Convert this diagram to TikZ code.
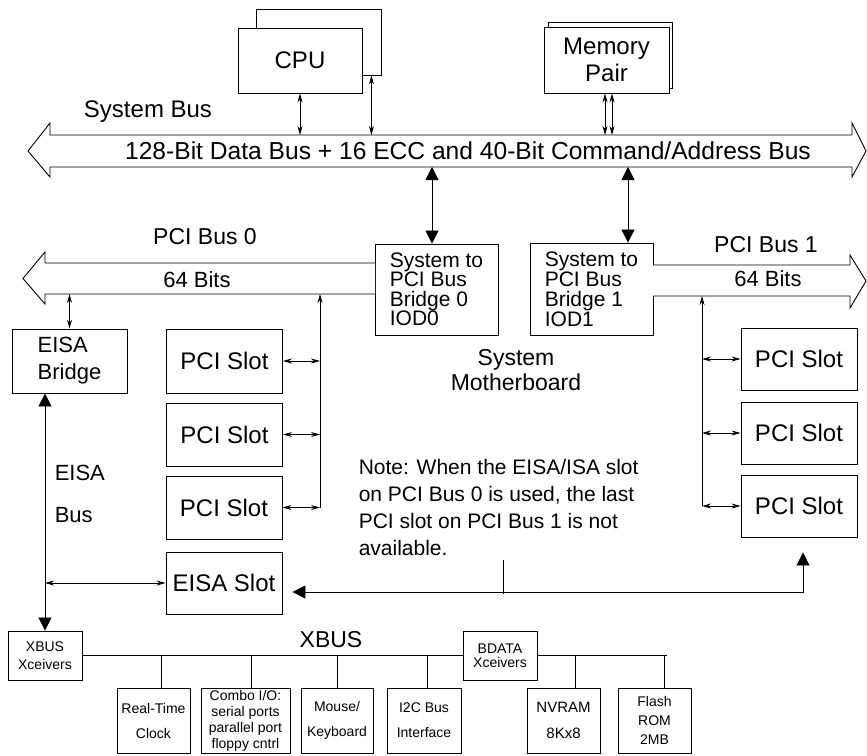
\documentclass[tikz,border=0pt]{standalone}
\usepackage{fontspec}
\setmainfont{Liberation Sans}
\usetikzlibrary{arrows.meta, calc}

\begin{document}
\begin{tikzpicture}[
    x=1pt, y=-1pt,
    line width=0.9pt,
    blk/.style={draw, fill=white, inner sep=0pt, align=center},
    big/.style={font=\fontsize{24}{27}\selectfont},
    mid/.style={font=\fontsize{21}{27}\selectfont},
    tiny/.style={font=\fontsize{14}{25}\selectfont},
    bus/.style={draw, fill=white, line join=miter},
    arr/.style={{Stealth[length=9pt,width=5pt]}-{Stealth[length=9pt,width=5pt]}, line width=0.8pt},
    uparr/.style={-{Stealth[length=9pt,width=5pt]}, line width=0.8pt},
    fat/.style={{Triangle[length=13pt,width=13pt]}-{Triangle[length=13pt,width=13pt]}, line width=0.8pt},
]
    \useasboundingbox (0,0) rectangle (867,755);

    % System bus
    \draw[bus] (50,135) -- (852,135) -- (852,123) -- (866,151) -- (852,177) -- (852,167)
        -- (50,167) -- (50,177) -- (28,151) -- (50,123) -- cycle;
    \coordinate (sbtop) at (0,135);
    \coordinate (sbbot) at (0,167);
    \node[font=\fontsize{24.6}{27}\selectfont] (sbtxt) at (468,151) {128-Bit Data Bus + 16 ECC and 40-Bit Command/Address Bus};
    \node[big] (sblbl) at (148,112) {System Bus};

    % CPU and memory
    \node[blk, minimum width=125, minimum height=66] (cpub) at (318.5,42) {};
    \node[blk, big, minimum width=124, minimum height=65] (cpu) at (300,60.5) {CPU};
    \node[blk, minimum width=124, minimum height=66] (memb) at (610,55) {};
    \node[blk, big, minimum width=125, minimum height=66] (mem) at (606.5,60) {Memory\\Pair};

    \coordinate (cpuc) at ($(cpub.south east)+(-10,0)$);
    \coordinate (mema) at ($(mem.south)+(-1.5,0)$);
    \coordinate (memc) at ($(mem.south)+(5.5,0)$);
    \draw[arr] (cpu.south) -- (cpu.south |- sbtop);
    \draw[arr] (cpuc) -- (cpuc |- sbtop);
    \draw[arr] (mema) -- (mema |- sbtop);
    \draw[arr] (memc) -- (memc |- sbtop);

    % Bridges
    \node[blk, align=left, minimum width=123, minimum height=91, font=\fontsize{21}{19.5}\selectfont] (br0) at (436.5,289.5) {System to\\PCI Bus\\Bridge 0\\IOD0};
    \node[blk, align=left, minimum width=123, minimum height=92, font=\fontsize{21}{20}\selectfont] (br1) at (591.5,289) {System to\\PCI Bus\\Bridge 1\\IOD1};
    \coordinate (b0top) at ($(br0.north)+(-4.5,0)$);
    \coordinate (b1top) at ($(br1.north)+(36.5,0)$);
    \draw[fat] (b0top) -- (b0top |- sbbot);
    \draw[fat] (b1top) -- (b1top |- sbbot);

    % PCI buses
    \draw[bus] (375,263) -- (45,263) -- (45,252) -- (23,278.5) -- (45,304) -- (45,294) -- (375,294);
    \draw[bus] (653,265) -- (850,265) -- (850,255) -- (866,281) -- (850,308) -- (850,296) -- (653,296);
    \coordinate (p0bot) at (0,294);
    \coordinate (p1bot) at (0,296);
    \node[font=\fontsize{23}{27}\selectfont] (p0lbl) at (205,237) {PCI Bus 0};
    \node[font=\fontsize{22}{27}\selectfont] (p0bits) at (197,280) {64 Bits};
    \node[font=\fontsize{23}{27}\selectfont] (p1lbl) at (766,245) {PCI Bus 1};
    \node[font=\fontsize{22}{27}\selectfont] (p1bits) at (768,279) {64 Bits};

    % EISA bridge and PCI slots on bus 0
    \node[blk, align=left, minimum width=115, minimum height=64, font=\fontsize{22}{27}\selectfont] (ebr) at (69.5,361) {EISA\\Bridge};
    \draw[arr] (ebr.north) -- (ebr.north |- p0bot);

    \node[blk, big, minimum width=116, minimum height=64] (ps1) at (224.5,361) {PCI Slot};
    \node[blk, big, minimum width=116, minimum height=63] (ps2) at (224.5,434.5) {PCI Slot};
    \node[blk, big, minimum width=116, minimum height=63] (ps3) at (224,507.5) {PCI Slot};
    \coordinate (t0) at (320,294);
    \draw[uparr] (ps3.east -| t0) -- (t0);
    \foreach \s in {ps1,ps2,ps3}
        \draw[arr] (\s.east) -- (\s.east -| t0);

    % PCI slots on bus 1
    \node[blk, big, minimum width=116, minimum height=62] (rs1) at (799,359) {PCI Slot};
    \node[blk, big, minimum width=116, minimum height=62] (rs2) at (799,433) {PCI Slot};
    \node[blk, big, minimum width=116, minimum height=62] (rs3) at (799,506) {PCI Slot};
    \coordinate (t1) at (702,296);
    \draw[uparr] (rs3.west -| t1) -- (t1);
    \foreach \s in {rs1,rs2,rs3}
        \draw[arr] (\s.west) -- (\s.west -| t1);

    % Texts
    \node[align=center, font=\fontsize{23}{25}\selectfont] (mb) at (516,370.5) {System\\Motherboard};
    \node[align=left, anchor=west, font=\fontsize{21}{27.3}\selectfont] (note) at (355,507.5) {Note: When the EISA/ISA slot\\on PCI Bus 0 is used, the last\\PCI slot on PCI Bus 1 is not\\available.};
    \node[align=left, anchor=west, font=\fontsize{22}{42}\selectfont] (ebus) at (51,494) {EISA\\Bus};

    % EISA slot and XBUS
    \node[blk, big, minimum width=116, minimum height=62] (es) at (224,583) {EISA Slot};
    \node[blk, font=\fontsize{14}{18}\selectfont, minimum width=74, minimum height=49] (xbx) at (45,655.5) {XBUS\\Xceivers};
    \draw[fat] (ebr.south -| xbx.north) -- (xbx.north);
    \draw[arr] (es.west -| xbx.north) -- (es.west);

    \coordinate (nup) at ($(rs3.south)+(4,15)$);
    \coordinate (nleft) at ($(es.east)+(10,9)$);
    \draw[fat] (nup) |- (nleft);
    \coordinate (tk) at (503,560);
    \draw (tk) -- ++(0,34);

    % XBUS devices
    \node[font=\fontsize{23}{27}\selectfont] (xlbl) at (331,640) {XBUS};
    \node[blk, font=\fontsize{14}{14}\selectfont, minimum width=74, minimum height=49] (bdx) at (500,655.5) {BDATA\\Xceivers};
    \draw (xbx.east) -- (bdx.west);
    \coordinate (xbl) at (0,655.5);

    \node[blk, tiny, minimum width=73, minimum height=65] (rtc) at (153.5,720.5) {Real-Time\\Clock};
    \node[blk, font=\fontsize{14}{16}\selectfont, minimum width=89, minimum height=65] (combo) at (245.5,720.5) {Combo I/O:\\serial ports\\parallel port\\floppy cntrl};
    \node[blk, tiny, minimum width=72, minimum height=65] (mouse) at (337,720.5) {Mouse/\\Keyboard};
    \node[blk, tiny, minimum width=74, minimum height=65] (i2c) at (424,720.5) {I2C Bus\\Interface};
    \node[blk, font=\fontsize{15}{26}\selectfont, minimum width=73, minimum height=65] (nvram) at (563.5,720.5) {NVRAM\\8Kx8};
    \node[blk, font=\fontsize{14}{19}\selectfont, minimum width=73, minimum height=65] (flash) at (654.5,720.5) {Flash\\ROM\\2MB};

    \foreach \n/\dx in {rtc/8, combo/6, mouse/0, i2c/3} {
        \coordinate (d) at ($(\n.north)+(\dx,0)$);
        \draw (d) -- (d |- xbl);
    }
    \coordinate (fd) at ($(flash.north)+(10,0)$);
    \coordinate (nd) at ($(nvram.north)+(12,0)$);
    \draw (bdx.east) -- ($(bdx.east -| fd)+(2,0)$);
    \draw (nd) -- (nd |- bdx.east);
    \draw (fd) -- (fd |- bdx.east);
\end{tikzpicture}
\end{document}
